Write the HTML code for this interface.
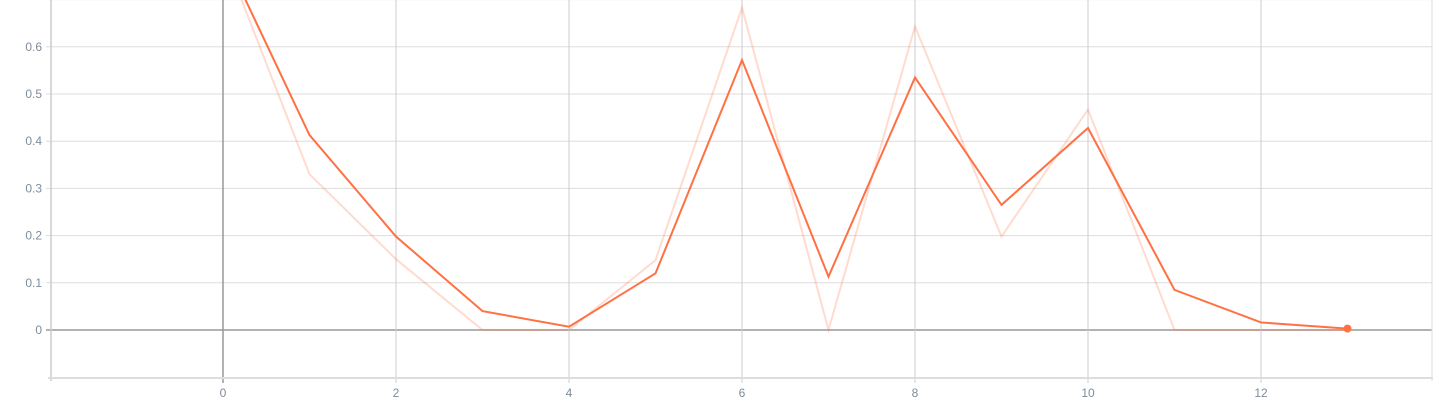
<!DOCTYPE html>
<html><head><meta charset="utf-8"><style>
html,body{margin:0;padding:0;background:#fff;}
svg{display:block;font-family:"Liberation Sans",sans-serif;}
</style></head><body>
<svg id="chart" width="1434" height="400" viewBox="0 0 1434 400" xmlns="http://www.w3.org/2000/svg">
<g id="grid"></g>
<g id="axes"></g>
<g id="series"></g>
</svg>
<script>
const steps = [0,1,2,3,4,5,6,7,8,9,10,11,12,13];
const rawValues = [0.80,0.33,0.15,0,0,0.148,0.683,0,0.643,0.198,0.467,0,0,0];
const smoothedValues = [0.80,0.413,0.198,0.040,0.007,0.120,0.572,0.113,0.535,0.265,0.428,0.085,0.016,0.003];
const xTicks = [0,2,4,6,8,10,12];
const yTicks = [0,0.1,0.2,0.3,0.4,0.5,0.6,0.7];
const yTickLabels = ["0","0.1","0.2","0.3","0.4","0.5","0.6",""];

const NS="http://www.w3.org/2000/svg";
const L=51,R=1432,T=0,B=378;
function xs(v){return 223+v*86.5;}
function ys(v){return 330-v*472;}
function mk(tag,attrs,parent){const e=document.createElementNS(NS,tag);for(const k in attrs)e.setAttribute(k,attrs[k]);parent.appendChild(e);return e;}
const grid=document.getElementById('grid'),axes=document.getElementById('axes'),series=document.getElementById('series');

yTicks.forEach((t,i)=>{
  const y=ys(t);
  const ln=mk('line',{x1:L-5,x2:R,y1:y,y2:y,stroke:t===0?'#999':'#ddd','stroke-width':t===0?1.5:1},grid);
  
  
  if(yTickLabels[i]){
    const tx=mk('text',{x:42,y:y+4,'text-anchor':'end','font-size':12,fill:'#7f8c99'},axes);
    tx.textContent=yTickLabels[i];
    
    
  }
});
xTicks.forEach(t=>{
  const x=xs(t);
  const ln=mk('line',{x1:x,x2:x,y1:T,y2:B+5,stroke:t===0?'#999':'#ccc','stroke-width':t===0?1.5:1},grid);
  
  
  const tx=mk('text',{x:x,y:397,'text-anchor':'middle','font-size':12,fill:'#7f8c99'},axes);
  tx.textContent=String(t);
  
  
});
const ya=mk('line',{x1:L,x2:L,y1:T,y2:B+3,stroke:'#ccc','stroke-width':1.5},axes);


const xa=mk('line',{x1:L-3,x2:R+1,y1:B,y2:B,stroke:'#ddd','stroke-width':2},axes);


const rb=mk('line',{x1:R,x2:R,y1:T,y2:B+3,stroke:'#ddd','stroke-width':1},axes);



function pts(vals){return steps.map((s,i)=>xs(s)+','+ys(vals[i])).join(' ');}
const raw=mk('polyline',{points:pts(rawValues),fill:'none',stroke:'#ff7043','stroke-opacity':0.25,'stroke-width':2},series);


const sm=mk('polyline',{points:pts(smoothedValues),fill:'none',stroke:'#ff7043','stroke-width':2},series);


const n=steps.length-1;
const dot=mk('circle',{cx:xs(steps[n]),cy:ys(smoothedValues[n]),r:4,fill:'#ff7043'},series);


</script>
</body></html>
